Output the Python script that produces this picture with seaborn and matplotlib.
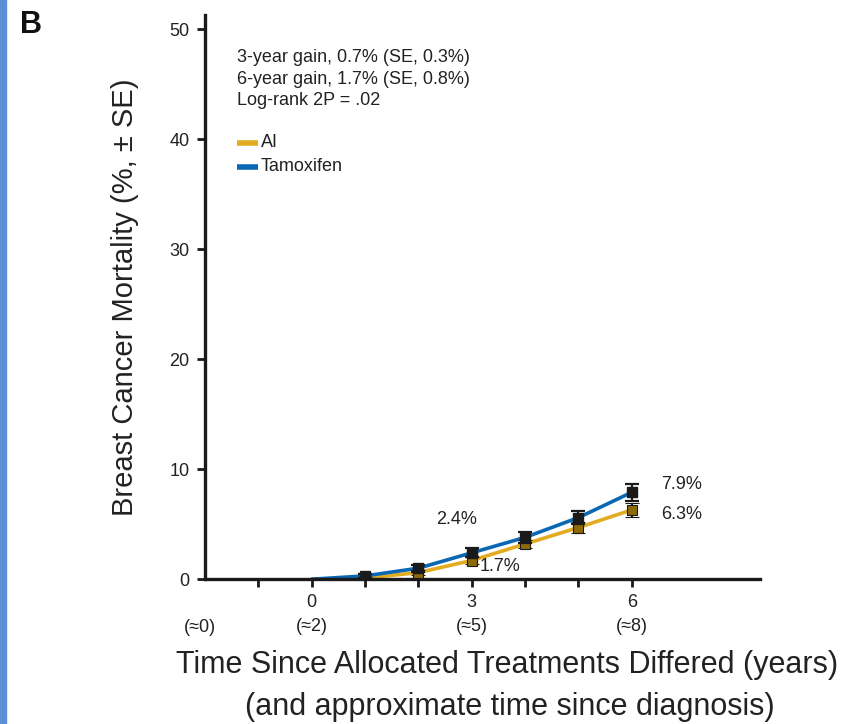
import numpy as np
import matplotlib
matplotlib.use("Agg")
import matplotlib.pyplot as plt
import seaborn as sns
import pandas as pd

# values
years = [0, 1, 2, 3, 4, 5, 6]
ai = [0.0, 0.1, 0.6, 1.7, 3.2, 4.7, 6.3]
tam = [0.0, 0.3, 1.0, 2.4, 3.8, 5.6, 7.9]
ai_se = [0.0, 0.1, 0.2, 0.3, 0.4, 0.5, 0.6]
tam_se = [0.0, 0.15, 0.3, 0.4, 0.5, 0.6, 0.75]
tick_pos = [0, 3, 6]
tick_labels = ["0\n(\u22482)", "3\n(\u22485)", "6\n(\u22488)"]

AI_COL = "#e3ab1f"
TAM_COL = "#0a67b3"
MK_AI = "#8c6a08"

sns.set_style("ticks")
FONT = ["Liberation Sans Narrow", "Liberation Sans", "DejaVu Sans"]
plt.rcParams["font.family"] = FONT

df = pd.DataFrame({"year": years * 2,
                   "risk": ai + tam,
                   "arm": ["AI"] * len(years) + ["Tamoxifen"] * len(years)})

fig = plt.figure(figsize=(8.56, 7.24), dpi=100)
ax = fig.add_axes([0.2395, 0.2, 0.648, 0.779])

sns.lineplot(data=df, x="year", y="risk", hue="arm",
             palette={"AI": AI_COL, "Tamoxifen": TAM_COL},
             linewidth=2.6, ax=ax, legend=False)

# square markers with SE bars (from year 1 on)
ax.errorbar(years[1:], ai[1:], yerr=ai_se[1:], fmt="s", ms=7,
            mfc=MK_AI, mec="#1a1a1a", mew=0.8, ecolor="#1a1a1a",
            elinewidth=1.6, capsize=5, capthick=1.6, zorder=5)
ax.errorbar(years[1:], tam[1:], yerr=tam_se[1:], fmt="s", ms=7,
            mfc="#1a1a1a", mec="#1a1a1a", ecolor="#1a1a1a",
            elinewidth=1.6, capsize=5, capthick=1.6, zorder=6)

ax.set_xlim(-2, 8.4)
ax.set_ylim(0, 51.3)
ax.set_yticks([0, 10, 20, 30, 40, 50])
ax.set_xticks([-1, 0, 1, 2, 3, 4, 5, 6])
ax.set_xticklabels(["" if t not in tick_pos else tick_labels[tick_pos.index(t)]
                    for t in [-1, 0, 1, 2, 3, 4, 5, 6]],
                   linespacing=1.5)
ax.tick_params(axis="both", length=6, width=2, color="#1a1a1a",
               labelsize=13, labelcolor="#222222", pad=5)
ax.text(-2.1, -0.085, "(\u22480)", transform=ax.get_xaxis_transform(),
        ha="center", va="center", fontsize=13, color="#222222")
for s in ["top", "right"]:
    ax.spines[s].set_visible(False)
for s in ["left", "bottom"]:
    ax.spines[s].set_linewidth(2.4)
    ax.spines[s].set_color("#1a1a1a")

ax.set_xlabel("")
ax.set_ylabel("Breast Cancer Mortality (%, \u00b1 SE)", fontsize=21,
              color="#222222", labelpad=22)
fig.text(0.592, 0.0815, "Time Since Allocated Treatments Differed (years)",
         fontsize=22, color="#222222", ha="center", va="center")
fig.text(0.595, 0.0235, "(and approximate time since diagnosis)",
         fontsize=22, color="#222222", ha="center", va="center")

# statistics text
ax.text(-1.4, 48.2, "3-year gain, 0.7% (SE, 0.3%)\n6-year gain, 1.7% (SE, 0.8%)\nLog-rank 2P = .02",
        fontsize=13, color="#222222", va="top", linespacing=1.35)

# legend drawn as short lines
ax.plot([-1.4, -1.0], [39.7, 39.7], color=AI_COL, lw=4, solid_capstyle="butt")
ax.plot([-1.4, -1.0], [37.5, 37.5], color=TAM_COL, lw=4, solid_capstyle="butt")
ax.text(-0.95, 39.7, "AI", fontsize=13, color="#222222", va="center")
ax.text(-0.95, 37.5, "Tamoxifen", fontsize=13, color="#222222", va="center")

# value labels
ax.text(3.1, 5.4, "2.4%", fontsize=13, color="#222222", ha="right", va="center")
ax.text(3.15, 1.2, "1.7%", fontsize=13, color="#222222", ha="left", va="center")
ax.text(6.55, 8.6, "7.9%", fontsize=13, color="#222222", ha="left", va="center")
ax.text(6.55, 5.9, "6.3%", fontsize=13, color="#222222", ha="left", va="center")

fig.text(0.023, 0.965, "B", fontsize=22, fontweight="bold", color="#111111",
         va="center")
fig.patches.append(plt.Rectangle((0, 0), 0.007, 1, transform=fig.transFigure,
                                 color="#5b8fd6", zorder=0))

fig.savefig("out.png", dpi=100)
